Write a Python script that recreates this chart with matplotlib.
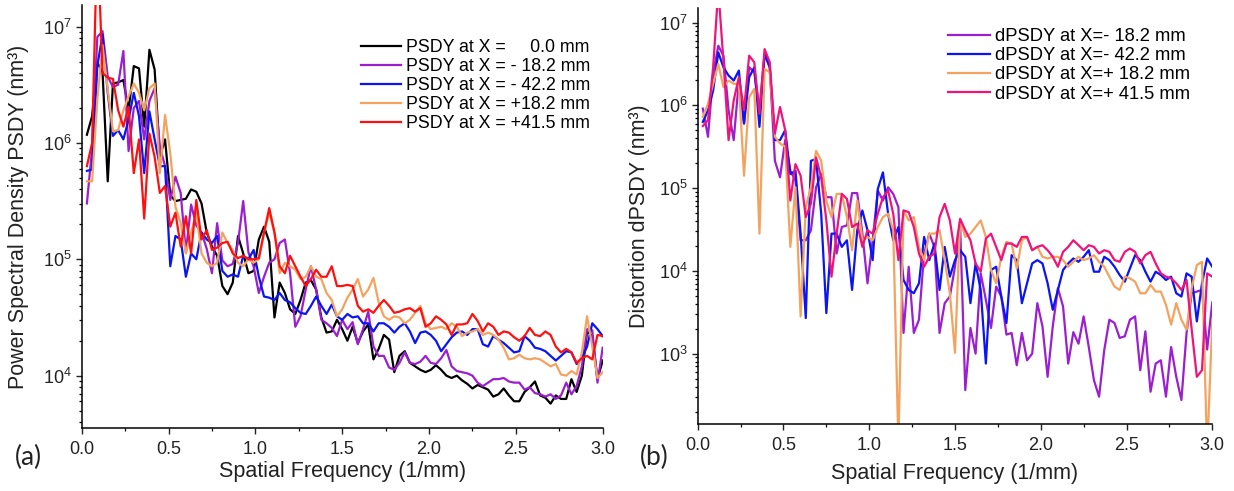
import numpy as np
import matplotlib
matplotlib.use('Agg')
import matplotlib.pyplot as plt
from matplotlib import ticker

plt.rcParams['font.family'] = ['Liberation Sans', 'DejaVu Sans']
plt.rcParams['mathtext.fontset'] = 'custom'
plt.rcParams['mathtext.rm'] = 'Liberation Sans'
plt.rcParams['mathtext.it'] = 'Liberation Sans:italic'
plt.rcParams['mathtext.bf'] = 'Liberation Sans:bold'

# spatial frequency (1/mm)
freq = np.round(np.arange(1, 101) * 0.03, 2)

# (a) PSDY, log10 of nm^3
psd_0 = [6.07, 6.23, 6.69, 6.61, 5.67, 6.51, 6.52, 6.54, 6.28, 6.66,
         6.64, 6.14, 6.80, 6.63, 5.88, 6.03, 5.55, 5.50, 5.51, 5.52,
         5.60, 5.58, 5.48, 5.23, 5.11, 5.03, 4.77, 4.70, 4.80, 5.20,
         5.05, 4.88, 4.90, 5.17, 5.28, 5.15, 4.50, 4.80, 4.71, 4.57,
         4.53, 4.65, 4.80, 4.82, 4.74, 4.50, 4.37, 4.38, 4.48, 4.40,
         4.30, 4.42, 4.28, 4.38, 4.44, 4.14, 4.23, 4.35, 4.31, 4.03,
         4.17, 4.21, 4.11, 4.08, 4.05, 4.03, 4.05, 4.09, 4.05, 4.00,
         3.98, 4.00, 3.96, 3.93, 3.89, 3.92, 3.90, 3.88, 3.82, 3.84,
         3.89, 3.83, 3.78, 3.78, 3.86, 3.90, 3.95, 3.83, 3.81, 3.76,
         3.83, 3.80, 3.80, 3.97, 3.86, 4.00, 4.38, 4.34, 3.97, 4.13]
psd_m18 = [5.48, 5.95, 6.91, 6.96, 6.57, 6.48, 6.50, 6.79, 5.93, 6.30,
           6.36, 6.03, 6.36, 6.47, 5.97, 5.80, 5.51, 5.71, 5.57, 5.06,
           5.47, 5.29, 5.23, 5.09, 4.88, 5.31, 4.99, 4.94, 4.96, 5.14,
           5.50, 5.06, 4.94, 4.71, 4.85, 4.97, 5.00, 5.14, 5.17, 4.88,
           4.42, 4.51, 4.74, 4.94, 4.74, 4.48, 4.45, 4.41, 4.34, 4.48,
           4.40, 4.46, 4.27, 4.40, 4.55, 4.25, 4.17, 4.17, 4.07, 4.05,
           4.11, 4.20, 4.11, 4.10, 4.12, 4.17, 4.11, 4.10, 4.15, 4.22,
           4.08, 4.04, 4.03, 4.02, 4.00, 3.94, 3.91, 3.94, 3.97, 3.97,
           3.98, 3.95, 3.94, 3.94, 3.88, 3.90, 3.85, 3.84, 3.82, 3.84,
           3.80, 3.83, 3.94, 3.84, 3.91, 4.08, 4.40, 4.39, 3.94, 4.24]
psd_m42 = [5.76, 5.77, 6.66, 6.93, 6.43, 6.06, 6.11, 6.03, 6.20, 6.43,
           6.23, 5.74, 6.27, 6.03, 5.80, 5.80, 4.94, 5.20, 5.17, 4.85,
           5.05, 5.00, 5.23, 5.17, 5.14, 5.20, 4.90, 4.85, 4.87, 4.85,
           5.03, 5.00, 5.08, 4.85, 4.68, 4.67, 4.65, 4.71, 4.65, 4.63,
           4.58, 4.54, 4.53, 4.60, 4.68, 4.60, 4.53, 4.61, 4.51, 4.48,
           4.53, 4.50, 4.51, 4.45, 4.45, 4.38, 4.45, 4.45, 4.42, 4.37,
           4.42, 4.45, 4.38, 4.28, 4.37, 4.38, 4.35, 4.30, 4.21, 4.27,
           4.33, 4.37, 4.38, 4.35, 4.40, 4.40, 4.27, 4.25, 4.34, 4.31,
           4.28, 4.24, 4.20, 4.21, 4.34, 4.30, 4.24, 4.23, 4.21, 4.17,
           4.13, 4.17, 4.21, 4.20, 4.10, 4.15, 4.25, 4.45, 4.40, 4.34]
psd_p18 = [5.67, 5.67, 6.37, 6.84, 6.46, 6.10, 6.11, 6.28, 6.40, 6.51,
           6.43, 6.28, 6.47, 6.51, 5.74, 6.24, 5.91, 5.45, 5.31, 5.05,
           5.23, 5.40, 5.05, 4.97, 4.94, 4.97, 5.23, 5.14, 5.08, 4.97,
           4.94, 5.00, 4.97, 5.00, 5.23, 5.40, 5.23, 4.88, 4.97, 4.94,
           4.91, 4.83, 4.85, 4.94, 4.85, 4.83, 4.71, 4.65, 4.51, 4.57,
           4.67, 4.74, 4.83, 4.68, 4.74, 4.84, 4.63, 4.51, 4.48, 4.51,
           4.50, 4.45, 4.48, 4.54, 4.60, 4.45, 4.40, 4.41, 4.42, 4.40,
           4.45, 4.42, 4.34, 4.37, 4.38, 4.40, 4.35, 4.37, 4.35, 4.31,
           4.24, 4.14, 4.15, 4.18, 4.15, 4.14, 4.15, 4.14, 4.11, 4.08,
           4.10, 4.01, 4.00, 4.04, 4.01, 4.20, 4.51, 4.25, 3.98, 4.03]
psd_p41 = [5.80, 6.00, 7.80, 6.60, 6.56, 6.55, 6.28, 6.14, 6.31, 5.74,
           6.03, 5.35, 6.08, 5.88, 5.57, 5.63, 5.28, 5.40, 5.11, 5.37,
           5.05, 5.51, 5.17, 5.25, 5.08, 5.10, 5.14, 5.15, 5.05, 5.01,
           5.03, 5.00, 5.00, 5.01, 5.23, 5.44, 5.23, 4.94, 4.88, 5.03,
           4.94, 4.85, 4.77, 4.83, 4.91, 4.85, 4.85, 4.94, 4.77, 4.77,
           4.78, 4.77, 4.60, 4.55, 4.57, 4.54, 4.60, 4.65, 4.60, 4.54,
           4.55, 4.57, 4.58, 4.55, 4.58, 4.42, 4.45, 4.51, 4.48, 4.44,
           4.35, 4.44, 4.44, 4.45, 4.53, 4.47, 4.38, 4.45, 4.42, 4.35,
           4.38, 4.37, 4.33, 4.30, 4.34, 4.41, 4.35, 4.34, 4.38, 4.35,
           4.25, 4.20, 4.23, 4.20, 4.11, 4.15, 4.17, 4.14, 4.35, 4.34]

# (b) distortion dPSDY, log10 of nm^3
dpsd_m18 = [5.96, 5.62, 6.38, 6.72, 6.60, 5.94, 5.58, 6.30, 5.78, 6.46,
            6.40, 5.94, 6.62, 6.46, 5.33, 5.13, 5.58, 5.21, 5.09, 4.37,
            4.37, 4.49, 5.01, 5.17, 4.89, 4.89, 4.21, 4.53, 4.55, 4.94,
            4.94, 4.45, 3.85, 4.37, 4.97, 4.85, 5.01, 4.93, 4.77, 3.25,
            4.05, 3.25, 3.41, 4.21, 4.45, 4.29, 3.25, 3.61, 3.69, 4.05,
            4.55, 2.56, 3.31, 3.00, 3.97, 3.65, 3.31, 3.81, 3.69, 3.23,
            3.25, 2.86, 3.25, 2.92, 3.00, 3.61, 3.33, 2.72, 3.33, 3.79,
            3.57, 2.88, 3.26, 3.12, 3.45, 3.08, 2.68, 2.48, 3.04, 3.41,
            3.37, 3.19, 3.21, 3.41, 3.45, 2.80, 3.27, 2.54, 2.88, 2.92,
            2.48, 3.08, 2.72, 2.44, 3.25, 3.73, 3.75, 3.77, 3.05, 3.62]
dpsd_m42 = [5.80, 5.94, 6.18, 6.64, 6.46, 6.36, 6.30, 6.42, 5.78, 6.34,
            6.46, 5.74, 6.62, 6.46, 5.58, 5.58, 5.70, 5.17, 5.21, 4.45,
            3.43, 5.33, 5.35, 4.69, 3.49, 4.45, 4.45, 4.29, 4.37, 3.77,
            4.49, 4.73, 4.49, 4.13, 4.99, 5.19, 4.69, 4.37, 4.53, 3.89,
            3.77, 3.73, 3.85, 4.41, 4.13, 4.33, 3.77, 4.29, 3.93, 4.13,
            4.25, 4.17, 3.61, 4.09, 3.77, 2.88, 4.01, 4.05, 3.69, 3.37,
            4.19, 4.13, 3.61, 3.85, 4.09, 4.13, 4.09, 3.85, 3.53, 3.77,
            4.01, 4.09, 4.15, 4.11, 4.17, 4.25, 3.99, 3.99, 4.17, 4.13,
            4.05, 3.95, 3.87, 4.03, 4.19, 4.13, 3.99, 3.87, 3.99, 3.95,
            3.89, 3.93, 3.73, 3.69, 3.97, 3.93, 3.39, 3.85, 4.15, 4.05]
dpsd_p18 = [5.86, 6.02, 6.26, 6.50, 6.22, 6.30, 6.26, 6.26, 5.15, 6.10,
            6.20, 4.45, 6.44, 6.40, 5.62, 5.54, 5.50, 4.29, 5.01, 3.45,
            4.77, 5.01, 5.45, 5.33, 4.85, 4.65, 4.93, 4.93, 4.65, 4.25,
            4.85, 4.37, 4.41, 4.37, 4.53, 4.65, 4.69, 4.49, 1.90, 4.73,
            4.61, 4.65, 4.29, 4.13, 4.45, 4.45, 4.49, 4.13, 3.73, 3.01,
            4.61, 4.41, 4.45, 4.53, 4.61, 4.41, 4.01, 3.85, 4.17, 4.35,
            4.33, 4.03, 4.37, 4.41, 4.25, 4.29, 4.17, 4.15, 4.17, 4.17,
            4.13, 4.05, 4.11, 4.17, 4.13, 4.15, 4.19, 4.11, 4.05, 3.93,
            3.81, 3.77, 3.93, 3.91, 3.87, 3.73, 3.73, 3.83, 3.75, 3.75,
            3.59, 3.35, 3.61, 3.41, 3.29, 3.79, 4.07, 4.11, 1.80, 3.40]
dpsd_p41 = [5.75, 5.82, 6.46, 7.40, 6.54, 5.58, 6.06, 6.34, 5.94, 6.60,
            6.52, 5.90, 6.68, 6.52, 5.66, 5.98, 5.70, 4.85, 5.29, 5.15,
            4.65, 4.81, 5.37, 5.13, 4.61, 3.93, 4.45, 4.93, 4.87, 4.53,
            4.57, 4.29, 4.49, 4.45, 4.69, 4.89, 4.97, 4.69, 4.13, 4.73,
            4.71, 4.53, 4.21, 4.05, 4.17, 4.21, 4.65, 4.81, 4.61, 4.21,
            4.63, 4.49, 4.37, 4.09, 3.99, 4.39, 4.45, 4.29, 4.13, 4.33,
            4.33, 4.29, 4.41, 4.41, 4.25, 4.29, 4.31, 4.25, 4.17, 4.05,
            4.23, 4.29, 4.37, 4.31, 4.25, 4.31, 4.29, 4.21, 4.25, 4.23,
            4.13, 4.11, 4.23, 4.27, 4.23, 4.09, 4.19, 4.23, 4.09, 3.97,
            3.93, 3.91, 3.85, 3.77, 3.89, 3.29, 2.72, 2.80, 3.97, 3.93]

labels_a = ['PSDY at X =     0.0 mm', 'PSDY at X = - 18.2 mm', 'PSDY at X = - 42.2 mm',
            'PSDY at X = +18.2 mm', 'PSDY at X = +41.5 mm']
labels_b = ['dPSDY at X=- 18.2 mm', 'dPSDY at X=- 42.2 mm',
            'dPSDY at X=+ 18.2 mm', 'dPSDY at X=+ 41.5 mm']

c_black = '#000000'
c_purple = '#9b1fd0'
c_blue = '#0a14f5'
c_orange = '#f4a35e'
c_red = '#ff1010'
c_pink = '#f0147a'

fig = plt.figure(figsize=(12.34, 4.91), dpi=100)
ax1 = fig.add_axes([0.0662, 0.1283, 0.4222, 0.8615])
ax2 = fig.add_axes([0.5654, 0.1358, 0.4170, 0.8479])

lw = 1.6
for vals, col, lab in zip([psd_0, psd_m18, psd_m42, psd_p18, psd_p41],
                          [c_black, c_purple, c_blue, c_orange, c_red], labels_a):
    ax1.plot(freq, 10 ** np.array(vals), color=col, lw=lw, label=lab)

for vals, col, lab in zip([dpsd_m18, dpsd_m42, dpsd_p18, dpsd_p41],
                          [c_purple, c_blue, c_orange, c_pink], labels_b):
    ax2.plot(freq, 10 ** np.array(vals), color=col, lw=lw, label=lab)

ax1.set_ylim(3550, 1.53e7)
ax2.set_ylim(140, 1.5e7)

for ax in (ax1, ax2):
    ax.set_yscale('log')
    ax.set_xlim(0, 3.0)
    ax.spines['top'].set_visible(False)
    ax.spines['right'].set_visible(False)
    ax.spines['left'].set_linewidth(1.1)
    ax.spines['bottom'].set_linewidth(1.1)
    ax.xaxis.set_major_locator(ticker.MultipleLocator(0.5))
    ax.xaxis.set_minor_locator(ticker.MultipleLocator(0.25))
    ax.xaxis.set_major_formatter(ticker.FormatStrFormatter('%.1f'))
    ax.yaxis.set_major_locator(ticker.LogLocator(base=10, numticks=12))
    ax.yaxis.set_minor_locator(ticker.LogLocator(base=10, subs=np.arange(2, 10), numticks=12))
    ax.yaxis.set_minor_formatter(ticker.NullFormatter())
    ax.tick_params(which='major', direction='out', length=4, width=1, labelsize=13, colors='#222222')
    ax.tick_params(which='minor', direction='out', length=2.5, width=0.9)
    ax.tick_params(axis='x', pad=5)
    ax.tick_params(axis='y', pad=3)
    ax.set_xlabel('Spatial Frequency (1/mm)', fontsize=15.5, color='#222222')

ax1.set_ylabel('Power Spectral Density PSDY (nm³)', fontsize=15.5, color='#222222')
ax2.set_ylabel('Distortion dPSDY (nm³)', fontsize=15.5, color='#222222')
ax1.yaxis.set_label_coords(-0.101, 0.5)
ax2.yaxis.set_label_coords(-0.0935, 0.5)
ax1.xaxis.set_label_coords(0.5, -0.078)
ax2.xaxis.set_label_coords(0.5, -0.092)

ax1.legend(loc='upper left', bbox_to_anchor=(0.536, 0.92), frameon=False, fontsize=12.8,
           handlelength=2.25, handletextpad=0.28, labelspacing=0.12, borderpad=0, borderaxespad=0)
ax2.legend(loc='upper left', bbox_to_anchor=(0.486, 0.952), frameon=False, fontsize=13.2,
           handlelength=2.3, handletextpad=0.28, labelspacing=0.12, borderpad=0, borderaxespad=0)

fig.text(15 / 1234, 1 - 457 / 491, '(a)', fontsize=19, family='Lato', ha='left', va='center', color='#222222')
fig.text(640 / 1234, 1 - 457 / 491, '(b)', fontsize=19, family='Lato', ha='left', va='center', color='#222222')

fig.savefig('out.png', dpi=100)
